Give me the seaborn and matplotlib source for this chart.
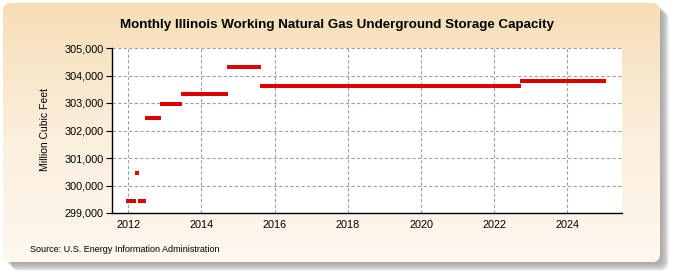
import numpy as np
import pandas as pd
import matplotlib
matplotlib.use("Agg")
import matplotlib.pyplot as plt
import seaborn as sns
from matplotlib.patches import FancyBboxPatch
from matplotlib.colors import LinearSegmentedColormap
from matplotlib.ticker import FuncFormatter

# ---- data ----
seg_start = ["2012-01", "2012-04", "2012-05", "2012-07", "2012-12", "2013-07", "2014-10", "2015-09", "2022-10"]
seg_end   = ["2012-03", "2012-04", "2012-06", "2012-11", "2013-06", "2014-09", "2015-08", "2022-09", "2025-01"]
capacity  = [299450, 300460, 299450, 302460, 302980, 303310, 304320, 303630, 303810]

title = "Monthly Illinois Working Natural Gas Underground Storage Capacity"
ylabel = "Million Cubic Feet"
source = "Source: U.S. Energy Information Administration"
yticks = [299000, 300000, 301000, 302000, 303000, 304000, 305000]
xticks = [2012, 2014, 2016, 2018, 2020, 2022, 2024]

rows = []
for s, e, v in zip(seg_start, seg_end, capacity):
    for d in pd.date_range(s, e, freq="MS"):
        rows.append({"date": d, "x": d.year + (d.month - 1) / 12.0, "value": v})
df = pd.DataFrame(rows)

W, H = 675, 275
fig = plt.figure(figsize=(W / 100, H / 100), dpi=100)
fig.patch.set_facecolor("white")

# ---- background panel with gradient, rounded corners and shadow ----
bg = fig.add_axes([0, 0, 1, 1], zorder=-10)
bg.set_xlim(0, W)
bg.set_ylim(H, 0)
bg.axis("off")
for i, a in enumerate([0.10, 0.10, 0.12, 0.14, 0.16]):
    off = 2 + i * 1.6
    sh = FancyBboxPatch((3 + 8 + off, 3 + 8 + off), 657 - 16, 259 - 16,
                        boxstyle="round,pad=8", fc=(0.35, 0.35, 0.35, a), ec="none",
                        zorder=1)
    bg.add_patch(sh)
panel = FancyBboxPatch((3 + 8, 3 + 8), 657 - 16, 259 - 16,
                       boxstyle="round,pad=8", fc="#FBEEDC", ec="none", zorder=2)
bg.add_patch(panel)
cmap = LinearSegmentedColormap.from_list("bgc", ["#F6DEB6", "#FBEEDC", "#FEF8F0"])
grad = np.linspace(0, 1, 256)[:, None]
im = bg.imshow(grad, extent=[3, 660, 262, 3], cmap=cmap, aspect="auto",
               origin="upper", zorder=3)
im.set_clip_path(panel)

# ---- main axes ----
L, R, T, B = 112, 622, 48, 213
ax = fig.add_axes([L / W, 1 - B / H, (R - L) / W, (B - T) / H])
ax.set_facecolor("white")

sns.scatterplot(data=df, x="x", y="value", ax=ax, marker="s", s=7.5,
                color="#E00000", linewidth=0, legend=False, zorder=3)

ax.set_xlim(2011.555, 2025.49)
ax.set_ylim(299000, 305000)
ax.set_xticks(xticks)
ax.set_xticklabels([str(t) for t in xticks])
ax.set_yticks(yticks)
ax.yaxis.set_major_formatter(FuncFormatter(lambda v, p: f"{int(v):,}"))

ax.grid(True, color="#A0A0A0", linestyle=(0, (3, 2)), linewidth=0.8)
ax.set_axisbelow(True)
for sp in ["top", "right"]:
    ax.spines[sp].set_visible(False)
for sp in ["left", "bottom"]:
    ax.spines[sp].set_color("black")
    ax.spines[sp].set_linewidth(1.0)

ax.tick_params(axis="y", length=4.3, width=0.8, pad=1.5, labelsize=7.8, colors="black")
ax.tick_params(axis="x", length=0, pad=5, labelsize=7.8, colors="black")
for lab in ax.get_xticklabels() + ax.get_yticklabels():
    lab.set_fontfamily("Liberation Sans")

ax.set_xlabel("")
ax.set_ylabel("")
fig.text(45 / W, 1 - 130 / H, ylabel, rotation=90, ha="center", va="center",
         fontsize=7.5, family="Liberation Sans")
fig.text(0.5, 1 - 25 / H, title, ha="center", va="center", fontsize=9.6,
         fontweight="bold", family=["Liberation Sans Narrow", "Liberation Sans"])
fig.text(30 / W, 1 - 249 / H, source, ha="left", va="center", fontsize=6.5,
         family="Liberation Sans")

fig.savefig("out.png", dpi=100, facecolor=fig.get_facecolor())
